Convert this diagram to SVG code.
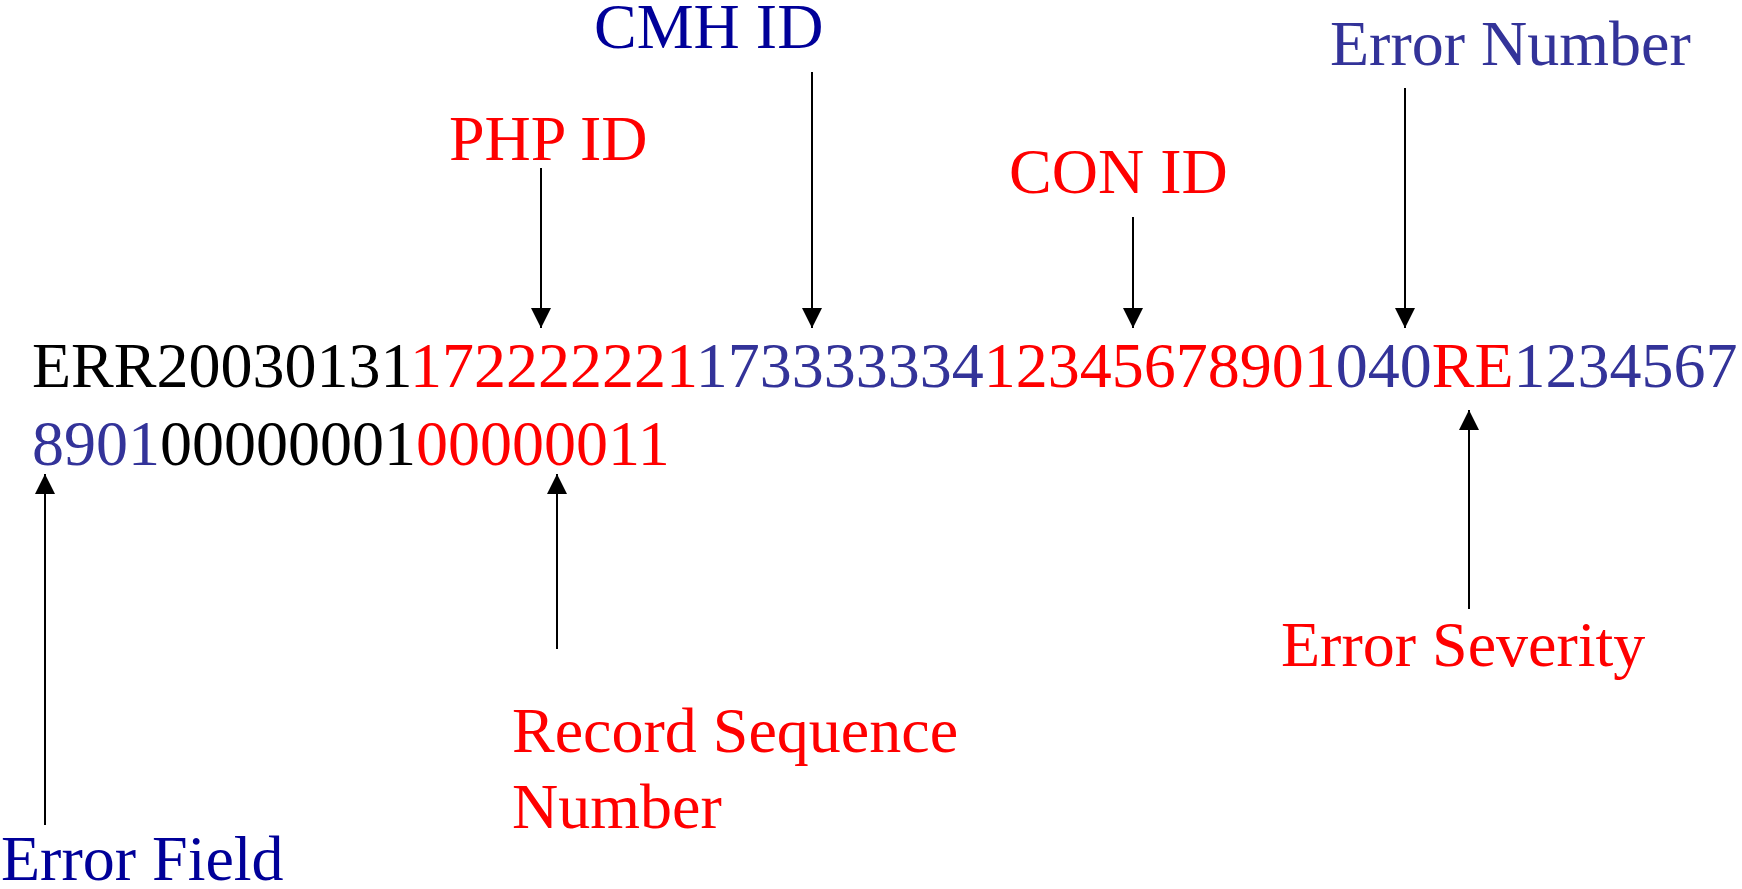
<svg xmlns="http://www.w3.org/2000/svg" width="1742" height="889" viewBox="0 0 1742 889">
<defs>
<marker id="ah" viewBox="0 0 20 20" refX="20" refY="10" markerWidth="20" markerHeight="20" markerUnits="userSpaceOnUse" orient="auto">
<path d="M0,0 L20,10 L0,20 z" fill="#000"/>
</marker>
<style>
text{font-family:"Liberation Serif","Times New Roman",serif;font-size:64px}
.k{fill:#000}.r{fill:#FF0000}.b{fill:#333399}.n{fill:#000099}
.c{stroke:#000;stroke-width:2;fill:none;marker-end:url(#ah)}
</style>
</defs>
<rect width="1742" height="889" fill="#fff"/>
<g id="record">
<text x="32" y="387"><tspan class="k">ERR20030131</tspan><tspan class="r">172222221</tspan><tspan class="b">173333334</tspan><tspan class="r">12345678901</tspan><tspan class="b">040</tspan><tspan class="r">RE</tspan><tspan class="b">1234567</tspan></text>
<text x="32" y="465"><tspan class="b">8901</tspan><tspan class="k">00000001</tspan><tspan class="r">00000011</tspan></text>
</g>
<g id="php-id"><text class="r" x="449" y="160">PHP ID</text></g>
<g id="cmh-id"><text class="n" x="594" y="48">CMH ID</text></g>
<g id="con-id"><text class="r" x="1009" y="193">CON ID</text></g>
<g id="error-number"><text class="b" x="1330" y="65">Error Number</text></g>
<g id="error-severity"><text class="r" x="1281" y="666">Error Severity</text></g>
<g id="record-sequence-number"><text class="r" x="512" y="752">Record Sequence</text><text class="r" x="512" y="828">Number</text></g>
<g id="error-field"><text class="n" x="1" y="880">Error Field</text></g>
<g id="connectors">
<line class="c" x1="541" y1="168" x2="541" y2="328"/>
<line class="c" x1="812" y1="72" x2="812" y2="328"/>
<line class="c" x1="1133" y1="217" x2="1133" y2="328"/>
<line class="c" x1="1405" y1="88" x2="1405" y2="328"/>
<line class="c" x1="1469" y1="609" x2="1469" y2="410"/>
<line class="c" x1="557" y1="649" x2="557" y2="474"/>
<line class="c" x1="45" y1="825" x2="45" y2="474"/>
</g>
</svg>
